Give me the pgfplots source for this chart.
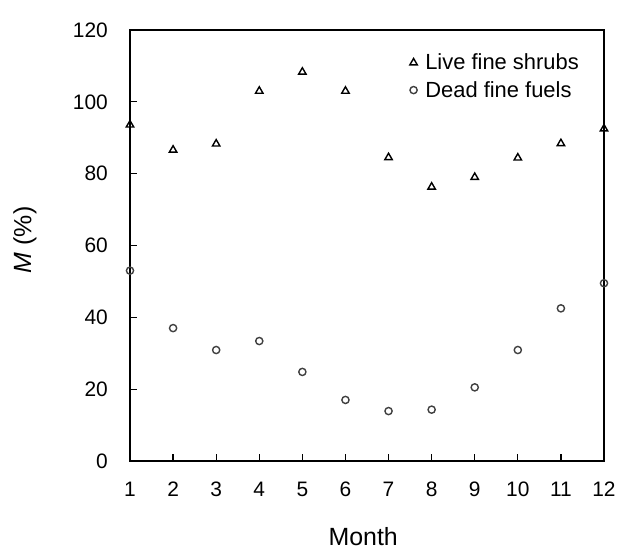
\documentclass[border=0pt]{standalone}
\usepackage{pgfplots}
\pgfplotsset{compat=1.18}
\usepackage{fontspec}
\setmainfont{Liberation Sans}
\begin{document}
\begin{tikzpicture}
\path[use as bounding box] (-130bp,-94bp) rectangle (506bp,461bp);
\begin{axis}[
  at={(0,0)}, anchor=south west,
  scale only axis, width=474bp, height=431bp,
  xmin=1, xmax=12, ymin=0, ymax=120,
  xtick={1,...,12}, ytick={0,20,...,120},
  axis line style={line width=1.5bp},
  tick style={line width=1.3bp, black},
  tick align=inside, major tick length=7bp,
  xtick pos=bottom, ytick pos=left,
  /pgf/number format/assume math mode=true,
  ticklabel style={font=\fontsize{21}{24}\selectfont, inner sep=0pt},
  xticklabel style={anchor=base, yshift=-35bp},
  yticklabel style={anchor=east, xshift=-22bp},
  xlabel={Month}, ylabel={\textit{M} (\%)},
  label style={font=\fontsize{25}{28}\selectfont, inner sep=0pt},
  xlabel style={at={(axis description cs:0.492,0)}, anchor=base, yshift=-84bp},
  ylabel style={at={(axis description cs:-0.2215,0.513)}, anchor=center},
  clip=false,
  legend image code/.code={\draw[#1] plot coordinates {(0bp,0bp)};},
  legend style={draw=none, fill=none, at={(rel axis cs:0.59,0.947)}, anchor=north west,
    font=\fontsize{22}{24}\selectfont, row sep=8bp,
    legend cell align=left, inner sep=0pt,
    nodes={inner sep=1pt},
    /tikz/every odd column/.append style={column sep=7bp}},
]
\addplot[only marks, mark=triangle, mark size=4.3bp, black, line width=1.4bp]
 coordinates {(1,93.6)(2,86.6)(3,88.3)(4,103)(5,108.3)(6,103)(7,84.5)(8,76.3)(9,79)(10,84.4)(11,88.4)(12,92.5)};
\addlegendentry{Live fine shrubs}
\addplot[only marks, mark=o, mark size=3.6bp, black!75, line width=1.4bp]
 coordinates {(1,53)(2,37)(3,30.9)(4,33.4)(5,24.8)(6,17)(7,13.9)(8,14.3)(9,20.5)(10,30.9)(11,42.5)(12,49.5)};
\addlegendentry{Dead fine fuels}
\end{axis}
\end{tikzpicture}
\end{document}
